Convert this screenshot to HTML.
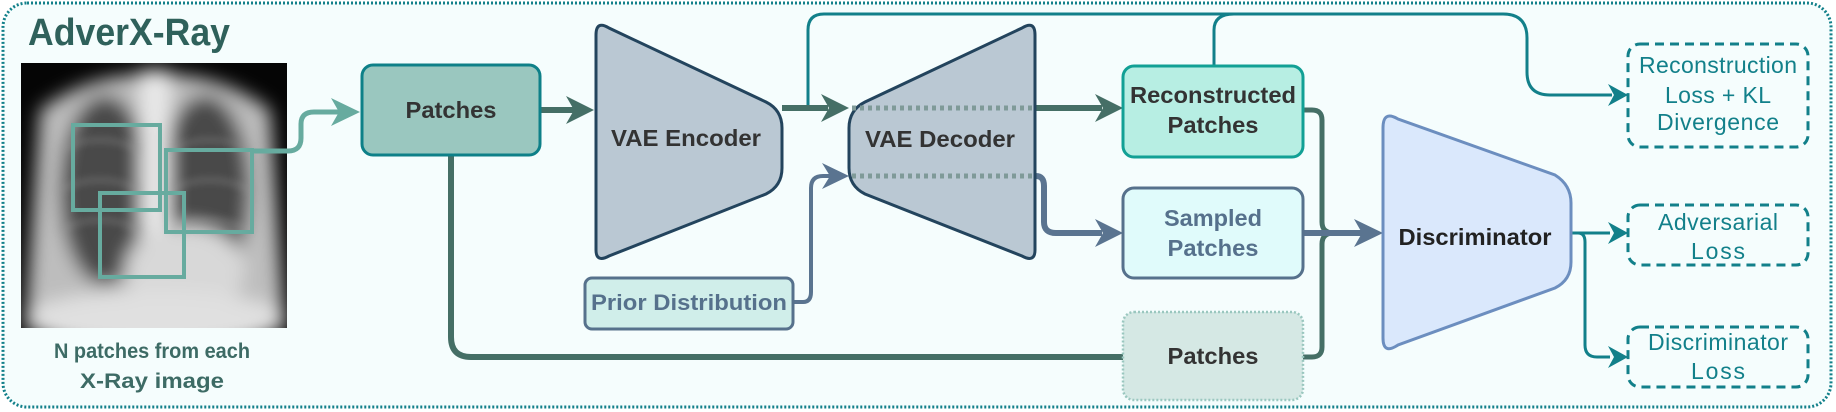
<!DOCTYPE html>
<html><head><meta charset="utf-8"><style>
html,body{margin:0;padding:0;background:#fff;}
svg{display:block;}
text{font-family:"Liberation Sans",sans-serif;}
</style></head><body>
<svg width="1836" height="412" viewBox="0 0 1836 412" xmlns="http://www.w3.org/2000/svg">
<defs>
<filter id="bl" x="-20%" y="-20%" width="140%" height="140%"><feGaussianBlur stdDeviation="9"/></filter>
<filter id="bl2" x="-20%" y="-20%" width="140%" height="140%"><feGaussianBlur stdDeviation="4"/></filter>
<clipPath id="xc"><rect x="21" y="63" width="266" height="265"/></clipPath>
</defs>
<rect x="3" y="3" width="1828" height="404" rx="24" fill="#f5fdfd" stroke="#12808a" stroke-width="3" stroke-dasharray="2 2"/>
<text x="28" y="45" font-size="38" font-weight="bold" fill="#2f615b" textLength="202" lengthAdjust="spacingAndGlyphs">AdverX-Ray</text>

<!-- X-ray -->
<g clip-path="url(#xc)">
<rect x="21" y="63" width="266" height="265" fill="#050505"/>
<g filter="url(#bl)">
<path d="M40,110 Q80,80 130,75 L180,75 Q230,80 270,110 L285,330 L25,330 Z" fill="#bdbdbd"/>
<ellipse cx="105" cy="190" rx="45" ry="95" fill="#4a4a4a"/>
<ellipse cx="205" cy="190" rx="45" ry="95" fill="#4a4a4a"/>
<rect x="140" y="70" width="30" height="260" fill="#e8e8e8"/>
<ellipse cx="185" cy="270" rx="60" ry="45" fill="#d8d8d8"/>
<ellipse cx="155" cy="320" rx="130" ry="30" fill="#e0e0e0"/>
</g>
<g filter="url(#bl2)" fill="none" stroke="#9a9a9a" stroke-width="3" opacity="0.6">
<path d="M60,150 Q100,130 140,150"/><path d="M170,150 Q210,130 250,150"/>
<path d="M60,190 Q100,170 140,190"/><path d="M170,190 Q210,170 250,190"/>
<path d="M60,230 Q100,210 140,230"/><path d="M170,230 Q210,210 250,230"/>
</g>
</g>
<g fill="none" stroke="#67ab9f" stroke-width="4">
<rect x="73" y="125" width="87" height="85"/>
<rect x="166" y="150" width="86" height="82"/>
<rect x="100" y="193" width="84" height="84"/>
<path d="M252,151 L288,151 Q301,151 301,138 L301,124 Q301,112 314,112 L340,112" stroke-width="5"/>
</g>
<polygon points="360,112 331,98 339,112 331,126" fill="#67ab9f"/>
<text x="152" y="358" font-size="21" font-weight="bold" fill="#3d6b65" text-anchor="middle" textLength="196" lengthAdjust="spacingAndGlyphs">N patches from each</text>
<text x="152" y="388" font-size="21" font-weight="bold" fill="#3d6b65" text-anchor="middle" textLength="144" lengthAdjust="spacingAndGlyphs">X-Ray image</text>

<!-- connectors (behind nodes) -->
<g fill="none" stroke-linejoin="round">
<path d="M808,108 L808,30 Q808,14 824,14 L1503,14 Q1527,14 1527,38 L1527,72 Q1527,95 1550,95 L1612,95" stroke="#12808a" stroke-width="3"/>
<path d="M1214,66 L1214,30 Q1214,14 1234,14" stroke="#12808a" stroke-width="3"/>
<path d="M540,110 L574,110" stroke="#456f66" stroke-width="6"/>
<path d="M782,108 L828,108" stroke="#456f66" stroke-width="6"/>
<path d="M1035,108 L1102,108" stroke="#456f66" stroke-width="6"/>
<path d="M451,155 L451,337 Q451,357 471,357 L1123,357" stroke="#456f66" stroke-width="6"/>
<path d="M793,302 L803,302 Q811,302 811,292 L811,188 Q811,176 823,176 L830,176" stroke="#5a7490" stroke-width="4"/>
<path d="M1035,176 L1036,176 Q1044,176 1044,186 L1044,222 Q1044,233 1056,233 L1102,233" stroke="#5a7490" stroke-width="6"/>
<path d="M1303,110 L1312,110 Q1322,110 1322,120 L1322,222 Q1322,233 1334,233 L1362,233" stroke="#456f66" stroke-width="5"/>
<path d="M1303,357 L1312,357 Q1322,357 1322,347 L1322,244 Q1322,233 1334,233" stroke="#456f66" stroke-width="5"/>
<path d="M1303,233 L1362,233" stroke="#5a7490" stroke-width="6"/>
<path d="M1571,233 L1610,233" stroke="#12808a" stroke-width="3"/>
<path d="M1571,233 L1578,233 Q1585,233 1585,242 L1585,345 Q1585,357 1597,357 L1610,357" stroke="#12808a" stroke-width="3"/>
</g>
<g>
<polygon points="594,110 566,96 574,110 566,124" fill="#456f66"/>
<polygon points="849,108 821,94 829,108 821,122" fill="#456f66"/>
<polygon points="1123,108 1095,94 1103,108 1095,122" fill="#456f66"/>
<polygon points="849,176 822,163 830,176 822,189" fill="#5a7490"/>
<polygon points="1123,233 1095,219 1103,233 1095,247" fill="#5a7490"/>
<polygon points="1383,233 1354,219 1362,233 1354,247" fill="#5a7490"/>
<polygon points="1628,95 1608,84 1614,95 1608,106" fill="#12808a"/>
<polygon points="1628,233 1608,222 1614,233 1608,244" fill="#12808a"/>
<polygon points="1628,357 1608,346 1614,357 1608,368" fill="#12808a"/>
</g>

<!-- nodes -->
<rect x="362" y="65" width="178" height="90" rx="11" fill="#9ac7bf" stroke="#0e8088" stroke-width="3"/>
<text x="451" y="118" font-size="23" font-weight="bold" fill="#333" text-anchor="middle" textLength="91" lengthAdjust="spacingAndGlyphs">Patches</text>

<path d="M596,35 Q596,20 609,28 L766,102 Q782,110 782,128 L782,168 Q782,186 766,194 L609,256 Q596,263 596,250 Z" fill="#bac8d3" stroke="#23445d" stroke-width="3"/>
<text x="686" y="146" font-size="23" font-weight="bold" fill="#333" text-anchor="middle" textLength="150" lengthAdjust="spacingAndGlyphs">VAE Encoder</text>

<path d="M1035,35 Q1035,20 1022,28 L865,102 Q849,110 849,128 L849,168 Q849,186 865,194 L1022,256 Q1035,263 1035,250 Z" fill="#bac8d3" stroke="#23445d" stroke-width="3"/>
<g stroke="#7f9a98" stroke-width="5" stroke-dasharray="4 4">
<path d="M852,108 L1033,108"/><path d="M852,176 L1033,176"/>
</g>
<text x="940" y="147" font-size="23" font-weight="bold" fill="#333" text-anchor="middle" textLength="150" lengthAdjust="spacingAndGlyphs">VAE Decoder</text>

<rect x="585" y="278" width="208" height="51" rx="7" fill="#d0eeea" stroke="#56718c" stroke-width="3"/>
<text x="689" y="310" font-size="22" font-weight="bold" fill="#56718c" text-anchor="middle" textLength="196" lengthAdjust="spacingAndGlyphs">Prior Distribution</text>

<rect x="1123" y="66" width="180" height="91" rx="11" fill="#b7eee3" stroke="#12a095" stroke-width="3"/>
<text x="1213" y="103" font-size="23" font-weight="bold" fill="#333" text-anchor="middle" textLength="166" lengthAdjust="spacingAndGlyphs">Reconstructed</text>
<text x="1213" y="133" font-size="23" font-weight="bold" fill="#333" text-anchor="middle" textLength="91" lengthAdjust="spacingAndGlyphs">Patches</text>

<rect x="1123" y="188" width="180" height="90" rx="11" fill="#e0fbfb" stroke="#56718c" stroke-width="3"/>
<text x="1213" y="226" font-size="23" font-weight="bold" fill="#56718c" text-anchor="middle" textLength="98" lengthAdjust="spacingAndGlyphs">Sampled</text>
<text x="1213" y="256" font-size="23" font-weight="bold" fill="#56718c" text-anchor="middle" textLength="91" lengthAdjust="spacingAndGlyphs">Patches</text>

<rect x="1123" y="312" width="180" height="88" rx="11" fill="#d5e8e4" stroke="#9ac7bf" stroke-width="2.5" stroke-dasharray="2 2"/>
<text x="1213" y="364" font-size="23" font-weight="bold" fill="#333" text-anchor="middle" textLength="91" lengthAdjust="spacingAndGlyphs">Patches</text>

<path d="M1383,128 Q1383,110 1398,119 L1555,175 Q1571,185 1571,203 L1571,262 Q1571,280 1555,288 L1398,345 Q1383,355 1383,338 Z" fill="#dae8fc" stroke="#6c8ebf" stroke-width="3"/>
<text x="1475" y="245" font-size="23" font-weight="bold" fill="#222" text-anchor="middle" textLength="153" lengthAdjust="spacingAndGlyphs">Discriminator</text>

<g fill="none" stroke="#12808a" stroke-width="3" stroke-dasharray="9 6">
<rect x="1628" y="44" width="180" height="103" rx="12"/>
<rect x="1628" y="205" width="180" height="60" rx="12"/>
<rect x="1628" y="327" width="180" height="60" rx="12"/>
</g>
<g font-size="23" fill="#12808a" text-anchor="middle" lengthAdjust="spacingAndGlyphs">
<text x="1718" y="73" textLength="158">Reconstruction</text>
<text x="1718" y="103" textLength="106">Loss + KL</text>
<text x="1718" y="130" textLength="122">Divergence</text>
<text x="1718" y="230" textLength="120">Adversarial</text>
<text x="1718" y="259" textLength="54">Loss</text>
<text x="1718" y="350" textLength="140">Discriminator</text>
<text x="1718" y="379" textLength="54">Loss</text>
</g>
</svg>
</body></html>
